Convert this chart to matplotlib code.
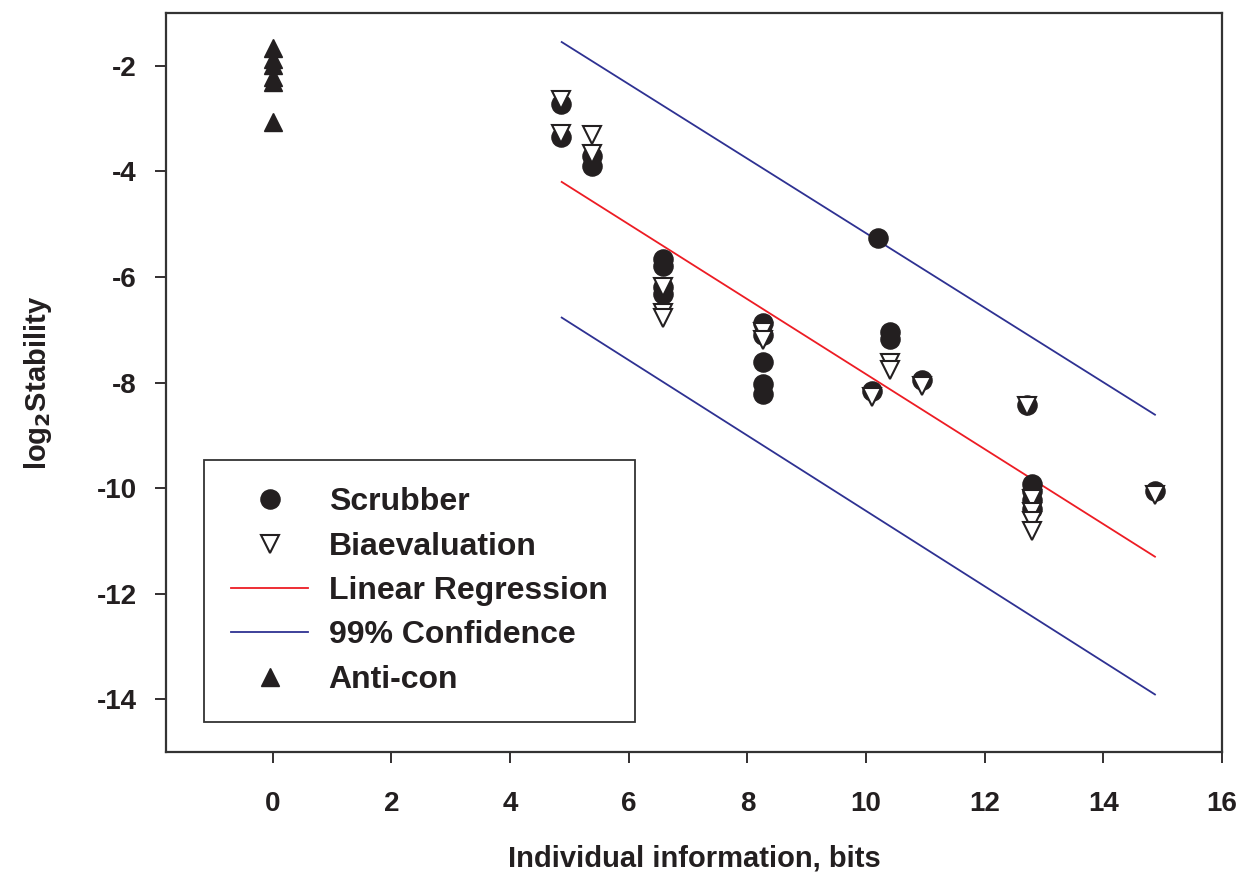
import matplotlib
matplotlib.use('Agg')
import matplotlib.pyplot as plt

# values
scrub_x = [4.85, 4.85, 5.38, 5.38, 6.58, 6.58, 6.58, 6.58, 8.26, 8.26, 8.26, 8.26, 8.26,
           10.2, 10.41, 10.41, 10.1, 10.94, 12.71, 12.79, 12.79, 12.79, 12.79, 14.87]
scrub_y = [-2.73, -3.35, -3.7, -3.9, -5.66, -5.8, -6.2, -6.32, -6.88, -7.1, -7.62, -8.02, -8.22,
           -5.26, -7.05, -7.18, -8.17, -7.95, -8.42, -9.92, -10.06, -10.22, -10.4, -10.06]

bia_x = [4.85, 4.85, 5.38, 5.38, 6.58, 6.58, 6.58, 8.26, 8.26, 10.41, 10.41, 10.1, 10.94,
         12.71, 12.79, 12.79, 12.79, 12.79, 14.87]
bia_y = [-2.64, -3.3, -3.31, -3.67, -6.2, -6.68, -6.78, -7.05, -7.2, -7.63, -7.76, -8.27, -8.07,
         -8.45, -10.2, -10.45, -10.63, -10.82, -10.14]

anti_x = [0, 0, 0, 0, 0, 0]
anti_y = [-1.67, -1.88, -1.98, -2.22, -2.3, -3.07]

line_x = [4.87, 14.87]
reg_y = [-4.2, -11.3]
upper_y = [-1.55, -8.61]
lower_y = [-6.77, -13.91]

x_ticks = [0, 2, 4, 6, 8, 10, 12, 14, 16]
y_ticks = [-2, -4, -6, -8, -10, -12, -14]

ink = '#231f20'
plt.rcParams['font.family'] = ['Liberation Sans', 'DejaVu Sans']
plt.rcParams['font.weight'] = 'bold'
plt.rcParams['axes.unicode_minus'] = False

W, H = 1244, 883
fig = plt.figure(figsize=(W / 100, H / 100), dpi=100)
ax = fig.add_axes([166 / W, 1 - 752 / H, (1222 - 166) / W, (752 - 13) / H])

ax.plot(line_x, reg_y, color='#ed1c24', lw=1.3, zorder=2, label='Linear Regression')
ax.plot(line_x, upper_y, color='#2e3192', lw=1.3, zorder=2, label='99% Confidence')
ax.plot(line_x, lower_y, color='#2e3192', lw=1.3, zorder=2)

ax.plot(scrub_x, scrub_y, 'o', ms=13.8, color=ink, mec=ink, zorder=3, label='Scrubber')
ax.plot(bia_x, bia_y, 'v', ms=13.5, mfc='white', mec=ink, mew=1.5, zorder=4,
        label='Biaevaluation')
ax.plot(anti_x, anti_y, '^', ms=13.5, color=ink, zorder=3, label='Anti-con')

ax.set_xlim(-1.8, 16)
ax.set_ylim(-15, -1)
ax.set_xticks(x_ticks)
ax.set_yticks(y_ticks)
ax.tick_params(direction='out', length=8, width=1.3, colors=ink, labelsize=20)
ax.tick_params(axis='x', pad=20)
ax.tick_params(axis='y', pad=13)
for s in ax.spines.values():
    s.set_linewidth(1.6)
    s.set_color('#333333')

ax.set_xlabel('Individual information, bits', fontsize=21, fontweight='bold', color=ink, labelpad=20)
ax.set_ylabel('log$_\\mathbf{2}$Stability', fontsize=21, fontweight='bold', color=ink, labelpad=31)

handles, labels = ax.get_legend_handles_labels()
order = ['Scrubber', 'Biaevaluation', 'Linear Regression', '99% Confidence', 'Anti-con']
hl = dict(zip(labels, handles))
leg = ax.legend([hl[k] for k in order], order, loc='lower left',
                bbox_to_anchor=(0.036, 0.0406), borderaxespad=0, numpoints=1, fontsize=23,
                handlelength=2.4, handletextpad=0.65, labelspacing=0.45,
                borderpad=0.85, fancybox=False, framealpha=1, edgecolor='#333333')
leg.get_frame().set_linewidth(1.3)
for t in leg.get_texts():
    t.set_color(ink)
    t.set_fontweight('bold')

fig.savefig('out.png', dpi=100)
